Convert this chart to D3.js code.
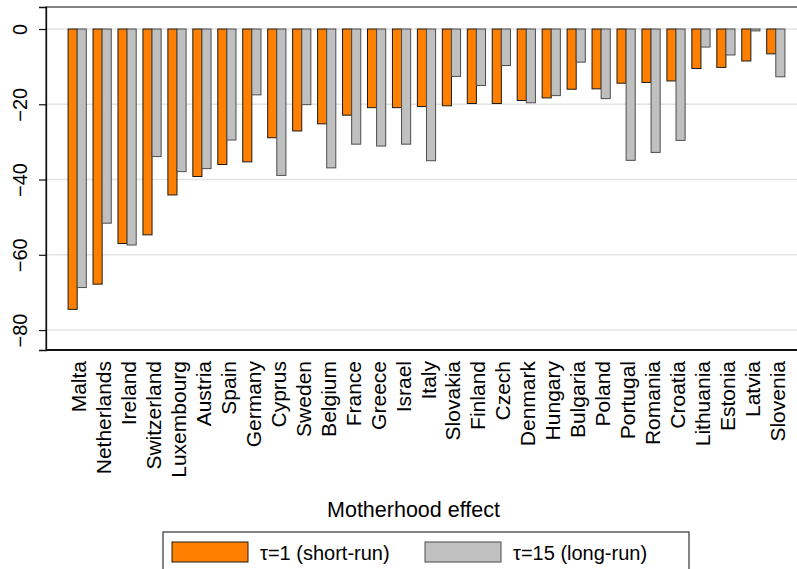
<!DOCTYPE html>
<html>
<head>
<meta charset="utf-8">
<script src="https://cdn.jsdelivr.net/npm/d3@7"></script>
<style>
  body { margin: 0; background: #fff; }
  svg { display: block; font-family: "Liberation Sans", Arial, sans-serif; }
</style>
</head>
<body>
<svg width="797" height="569"></svg>
<script>
// data
const countries = ["Malta","Netherlands","Ireland","Switzerland","Luxembourg","Austria","Spain","Germany",
  "Cyprus","Sweden","Belgium","France","Greece","Israel","Italy","Slovakia","Finland","Czech","Denmark",
  "Hungary","Bulgaria","Poland","Portugal","Romania","Croatia","Lithuania","Estonia","Latvia","Slovenia"];
const shortRun = [-74.5,-67.8,-57.0,-54.7,-44.1,-39.2,-36.0,-35.3,-28.9,-27.1,-25.2,-22.9,-20.9,-20.9,-20.6,
  -20.4,-19.8,-19.8,-19.0,-18.3,-16.0,-15.9,-14.4,-14.2,-13.8,-10.5,-10.2,-8.5,-6.6];
const longRun = [-68.7,-51.6,-57.4,-33.9,-37.9,-37.1,-29.5,-17.5,-38.9,-20.1,-36.9,-30.6,-31.1,-30.6,-35.0,
  -12.6,-15.0,-9.7,-19.6,-17.7,-8.8,-18.5,-34.9,-32.8,-29.6,-4.8,-6.9,-0.5,-12.7];
const yTicks = [0, -20, -40, -60, -80];
const seriesNames = ["short", "long"];
const legendLabels = ["\u03c4=1 (short-run)", "\u03c4=15 (long-run)"];
const colors = {short: "#ff8000", long: "#c0c0c0"};
const strokes = {short: "#1a1a1a", long: "#4d4d4d"};

const rows = countries.map((c, i) => ({country: c, short: shortRun[i], long: longRun[i]}));

const svg = d3.select("svg");
const plotLeft = 46, plotRight = 807, plotTop = 7, plotBottom = 350;

const y = d3.scaleLinear().domain([5.85, -85.3]).range([plotTop, plotBottom]);
const x = d3.scaleBand().domain(countries).range([plotLeft, plotRight])
  .paddingInner(0.27).paddingOuter(0.885);
const xSub = d3.scaleBand().domain(seriesNames).range([0, x.bandwidth()]);

// frame
svg.append("rect")
  .attr("x", plotLeft).attr("y", plotTop)
  .attr("width", plotRight - plotLeft).attr("height", plotBottom - plotTop)
  .attr("fill", "none").attr("stroke", "#444").attr("stroke-width", 1.3);

// gridlines
svg.append("g").selectAll("line").data(yTicks).enter().append("line")
  .attr("x1", plotLeft + 1).attr("x2", plotRight)
  .attr("y1", d => y(d)).attr("y2", d => y(d))
  .attr("stroke", "#e3e3e3").attr("stroke-width", 1.6);

// y axis
const yAxis = svg.append("g")
  .attr("transform", `translate(${plotLeft},0)`)
  .call(d3.axisLeft(y).tickValues(yTicks).tickSize(7).tickFormat(d3.format("d")));
yAxis.select(".domain").attr("stroke", "#111").attr("stroke-width", 1.3);
yAxis.selectAll(".tick line").attr("stroke", "#111").attr("stroke-width", 1.2);
yAxis.selectAll(".tick text")
  .attr("font-size", "20px")
  .attr("fill", "#000")
  .attr("text-anchor", "middle")
  .attr("x", 0).attr("dy", 0)
  .attr("transform", "translate(-19,0) rotate(-90)");

// bottom axis line
svg.append("line")
  .attr("x1", plotLeft).attr("x2", plotRight)
  .attr("y1", plotBottom).attr("y2", plotBottom)
  .attr("stroke", "#111").attr("stroke-width", 1.8);

// bars
const groups = svg.append("g").selectAll("g").data(rows).enter().append("g")
  .attr("transform", d => `translate(${x(d.country)},0)`);
groups.selectAll("rect")
  .data(d => seriesNames.map(k => ({key: k, value: d[k]})))
  .enter().append("rect")
  .attr("x", d => xSub(d.key))
  .attr("width", xSub.bandwidth())
  .attr("y", y(0))
  .attr("height", d => y(d.value) - y(0))
  .attr("fill", d => colors[d.key])
  .attr("stroke", d => strokes[d.key])
  .attr("stroke-width", 1);

// country labels
svg.append("g").selectAll("text").data(countries).enter().append("text")
  .attr("transform", d => `translate(${x(d) + x.bandwidth() / 2 + 9},361) rotate(-90)`)
  .attr("text-anchor", "end")
  .attr("font-size", "21px")
  .text(d => d);

// x title
svg.append("text")
  .attr("x", 413.5).attr("y", 517)
  .attr("text-anchor", "middle")
  .attr("font-size", "21.5px")
  .text("Motherhood effect");

// legend
const legend = svg.append("g");
legend.append("rect")
  .attr("x", 163).attr("y", 532).attr("width", 526).attr("height", 50)
  .attr("fill", "#fff").attr("stroke", "#333").attr("stroke-width", 1.2);
const legendX = [172, 425];
seriesNames.forEach((k, i) => {
  legend.append("rect")
    .attr("x", legendX[i]).attr("y", 542).attr("width", 76).attr("height", 20)
    .attr("fill", colors[k]).attr("stroke", strokes[k]).attr("stroke-width", 1);
  legend.append("text")
    .attr("x", legendX[i] + 88).attr("y", 560)
    .attr("font-size", "20px")
    .text(legendLabels[i]);
});
</script>
</body>
</html>
